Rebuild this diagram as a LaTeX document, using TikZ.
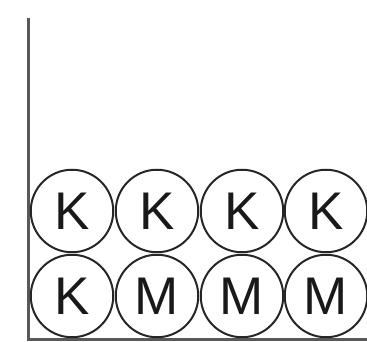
\documentclass[tikz,border=0pt]{standalone}
\usepackage{fontspec}
\setmainfont{Liberation Sans}
\begin{document}
\begin{tikzpicture}[x=1pt,y=1pt,
  ball/.style={circle,draw=black!85,line width=2pt,minimum size=82.5pt,inner sep=0pt,
    font=\fontsize{53}{53}\selectfont,text=black!90},
  wall/.style={draw=black!65,line width=2.4pt}]
\useasboundingbox (0,0) rectangle (367,342);
\coordinate (top) at (28.5,324);
\coordinate (corner) at (28.5,2.5);
\coordinate (right) at (367,2.5);
\draw[wall] (top) -- (corner) -- (right);
\node[ball] (a1) at (72,131) {K};
\node[ball] (a2) at (157,131) {K};
\node[ball] (a3) at (242,131) {K};
\node[ball] (a4) at (326,131) {K};
\node[ball] (b1) at (72,46) {K};
\node[ball] (b2) at (157,46) {M};
\node[ball] (b3) at (242,46) {M};
\node[ball] (b4) at (326,46) {M};
\end{tikzpicture}
\end{document}
